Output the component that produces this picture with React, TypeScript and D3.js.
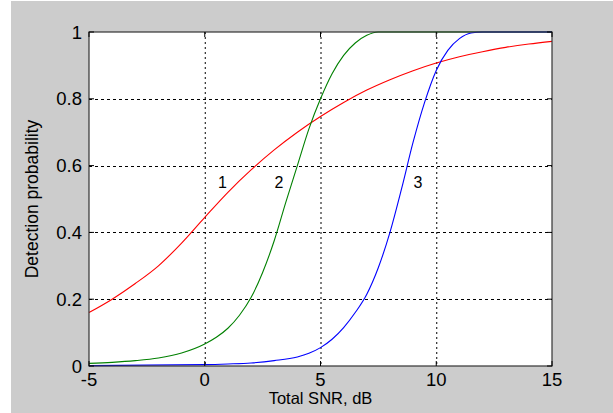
import React from "react";
import * as d3 from "d3";

// SNR points (dB) and detection probability for each curve
const snr1 = [-5, -4, -3, -2, -1, 0, 1, 2, 3, 4, 5, 6, 7, 8, 9, 10, 11, 12, 13, 14, 15];
const pd1 = [0.16, 0.2, 0.247, 0.3, 0.368, 0.445, 0.52, 0.587, 0.647, 0.7, 0.747, 0.789, 0.826, 0.857, 0.884, 0.907, 0.926, 0.941, 0.954, 0.964, 0.972];

const snr2 = [-5, -4, -3, -2, -1, 0, 0.5, 1, 1.5, 2, 2.5, 3, 3.5, 4, 4.5, 5, 5.5, 6, 6.5, 7, 7.5, 15];
const pd2 = [0.008, 0.011, 0.016, 0.024, 0.039, 0.066, 0.086, 0.113, 0.152, 0.205, 0.28, 0.375, 0.49, 0.6, 0.71, 0.8, 0.875, 0.93, 0.967, 0.99, 1, 1];

const snr3 = [-5, 0, 1, 2, 3, 4, 4.5, 5, 5.5, 6, 6.5, 7, 7.5, 8, 8.5, 9, 9.5, 10, 10.5, 11, 11.5, 12, 15];
const pd3 = [0.001, 0.004, 0.006, 0.009, 0.016, 0.027, 0.038, 0.055, 0.08, 0.115, 0.16, 0.215, 0.295, 0.4, 0.53, 0.67, 0.79, 0.885, 0.945, 0.98, 0.997, 1, 1];

const xTicks = [-5, 0, 5, 10, 15];
const yTicks = [0, 0.2, 0.4, 0.6, 0.8, 1];
const yTickLabels = ["0", "0.2", "0.4", "0.6", "0.8", "1"];

const curveLabels = [
  { text: "1", x: 0.77, y: 0.533 },
  { text: "2", x: 3.21, y: 0.533 },
  { text: "3", x: 9.21, y: 0.533 },
];

const font = "'Liberation Sans', Arial, sans-serif";

const App = () => {
  const margin = { top: 32, right: 61, bottom: 47, left: 89 };
  const width = 613;
  const height = 413;

  const x = d3.scaleLinear().domain([-5, 15]).range([margin.left, width - margin.right]);
  const y = d3.scaleLinear().domain([0, 1]).range([height - margin.bottom, margin.top]);

  const line = d3
    .line<[number, number]>()
    .x(d => x(d[0]))
    .y(d => y(d[1]))
    .curve(d3.curveMonotoneX);

  const series = [
    { xs: snr1, ys: pd1, color: "#ff0000" },
    { xs: snr2, ys: pd2, color: "#008000" },
    { xs: snr3, ys: pd3, color: "#0000ff" },
  ];

  const x0 = x(-5), x1 = x(15), y0 = y(0), y1 = y(1);

  return (
    <svg width={width} height={height} style={{ position: "absolute", left: 0, top: 0 }}>
      <rect x={0} y={0} width={width} height={height} fill="#ffffff" />
      <rect x={11} y={1} width={width - 11} height={height - 1} fill="#cccccc" />
      <rect x={x0} y={y1} width={x1 - x0} height={y0 - y1} fill="#ffffff" />

      {/* grid */}
      {xTicks.slice(1, -1).map(t => (
        <line key={"gx" + t} x1={x(t) + 0.5} x2={x(t) + 0.5} y1={y1} y2={y0}
          stroke="#000" strokeWidth={1} strokeDasharray="2,3" />
      ))}
      {yTicks.slice(1, -1).map(t => (
        <line key={"gy" + t} x1={x0} x2={x1} y1={Math.round(y(t)) + 0.5} y2={Math.round(y(t)) + 0.5}
          stroke="#000" strokeWidth={1} strokeDasharray="3,3" />
      ))}

      {/* curves */}
      {series.map((s, i) => (
        <path key={i} d={line(s.xs.map((v, j) => [v, s.ys[j]]) as [number, number][]) || ""}
          fill="none" stroke={s.color} strokeWidth={1.1} />
      ))}

      {/* frame */}
      <rect x={x0} y={y1} width={x1 - x0} height={y0 - y1} fill="none" stroke="#333" strokeWidth={1.2} />
      {xTicks.map(t => (
        <g key={"tx" + t}>
          <line x1={x(t)} x2={x(t)} y1={y0} y2={y0 - 5} stroke="#000" />
          <line x1={x(t)} x2={x(t)} y1={y1} y2={y1 + 5} stroke="#000" />
          <text x={x(t)} y={y0 + 20} textAnchor="middle" fontFamily={font} fontSize={18.5} fill="#000">
            {t}
          </text>
        </g>
      ))}
      {yTicks.map((t, i) => (
        <g key={"ty" + t}>
          <line x1={x0} x2={x0 + 5} y1={y(t)} y2={y(t)} stroke="#000" />
          <line x1={x1} x2={x1 - 5} y1={y(t)} y2={y(t)} stroke="#000" />
          <text x={x0 - 7} y={y(t) + 6.5} textAnchor="end" fontFamily={font} fontSize={18.5} fill="#000">
            {yTickLabels[i]}
          </text>
        </g>
      ))}

      {curveLabels.map(l => (
        <text key={l.text} x={x(l.x)} y={y(l.y)} textAnchor="middle" fontFamily={font} fontSize={16} fill="#000">
          {l.text}
        </text>
      ))}

      <text x={(x0 + x1) / 2} y={y0 + 38} textAnchor="middle" fontFamily={font} fontSize={16.5} fill="#000">
        Total SNR, dB
      </text>
      <text transform={`translate(${38},${(y0 + y1) / 2}) rotate(-90)`} textAnchor="middle"
        fontFamily={font} fontSize={17.5} fill="#000">
        Detection probability
      </text>
    </svg>
  );
};

export default App;
